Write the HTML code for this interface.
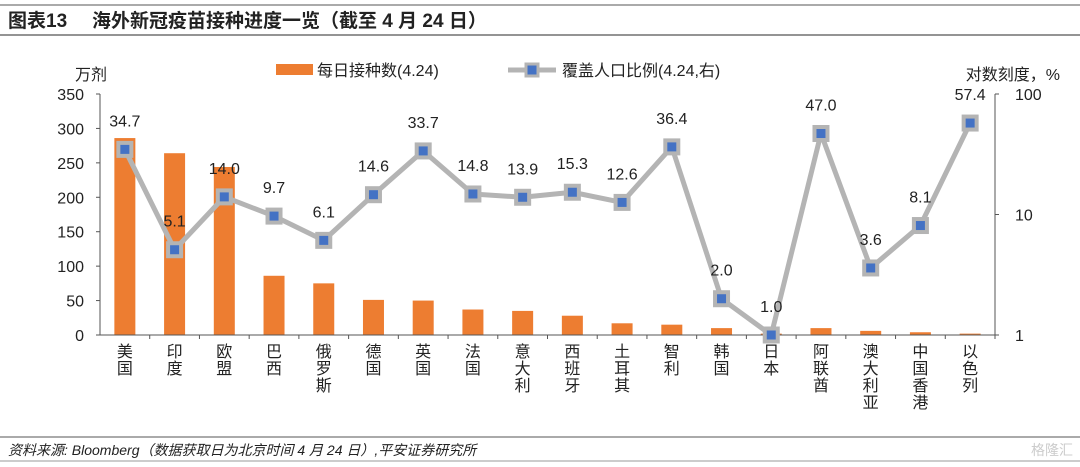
<!DOCTYPE html>
<html><head><meta charset="utf-8"><style>
html,body{margin:0;padding:0;background:#fff;width:1080px;height:467px;overflow:hidden}
svg{display:block;font-family:"Liberation Sans","Noto Sans CJK SC",sans-serif}
</style></head><body>
<svg id="c" width="1080" height="467" viewBox="0 0 1080 467">
<line x1="0" y1="5" x2="1080" y2="5" stroke="#555" stroke-width="1"/>
<text x="8" y="27" font-size="19" font-weight="bold" fill="#222">图表13<tspan x="92">海外新冠疫苗接种进度一览（截至 4 月 24 日）</tspan></text>
<line x1="0" y1="35" x2="1080" y2="35" stroke="#555" stroke-width="1.2"/>
<text x="75" y="80" font-size="16" fill="#222">万剂</text>
<text x="1060" y="80" font-size="16" fill="#222" text-anchor="end">对数刻度，%</text>
<g>
<rect x="276" y="64" width="37" height="11" fill="#ED7D31"/>
<text x="317" y="76" font-size="16" fill="#222">每日接种数(4.24)</text>
<line x1="508" y1="70" x2="556" y2="70" stroke="#B4B4B4" stroke-width="5"/>
<rect x="526" y="64" width="12" height="12" fill="#4472C4" stroke="#B4B4B4" stroke-width="3"/>
<text x="562" y="76" font-size="16" fill="#222">覆盖人口比例(4.24,右)</text>
</g>
<g id="plot"></g>
<line x1="0" y1="437" x2="1080" y2="437" stroke="#555" stroke-width="1"/>
<text x="8" y="455" font-size="14" font-style="italic" fill="#222">资料来源: Bloomberg（数据获取日为北京时间 4 月 24 日）,平安证券研究所</text>
<line x1="0" y1="461" x2="1080" y2="461" stroke="#999" stroke-width="1"/>
<text x="1073" y="455" font-size="14" fill="#ccc" text-anchor="end">格隆汇</text>
</svg>
<script>
const categories=["美国","印度","欧盟","巴西","俄罗斯","德国","英国","法国","意大利","西班牙","土耳其","智利","韩国","日本","阿联酋","澳大利亚","中国香港","以色列"];
const dailyDoses=[286,264,244,86,75,51,50,37,35,28,17,15,10,2,10,6,4,2];
const coverage=[34.7,5.1,14.0,9.7,6.1,14.6,33.7,14.8,13.9,15.3,12.6,36.4,2.0,1.0,47.0,3.6,8.1,57.4];
const leftTicks=[0,50,100,150,200,250,300,350];
const rightTicks=[1,10,100];
const NS="http://www.w3.org/2000/svg";
const g=document.getElementById('plot');
const X0=100,X1=995,Y0=335,Y1=94;
const step=(X1-X0)/categories.length;
const xc=i=>X0+step*(i+0.5);
const yL=v=>Y0-(v/350)*(Y0-Y1);
const yR=v=>Y0-(Math.log10(v)/2)*(Y0-Y1);
function mk(t,a){const e=document.createElementNS(NS,t);for(const k in a)e.setAttribute(k,a[k]);g.appendChild(e);return e;}
dailyDoses.forEach((v,i)=>{
 const r=mk('rect',{x:xc(i)-10.5,y:yL(v),width:21,height:Y0-yL(v),fill:'#ED7D31'});
 
 
});
let ax=mk('line',{x1:X0,y1:Y1,x2:X0,y2:Y0,stroke:'#555'});


ax=mk('line',{x1:X1,y1:Y1,x2:X1,y2:Y0,stroke:'#555'});


ax=mk('line',{x1:X0,y1:Y0,x2:X1,y2:Y0,stroke:'#555'});


leftTicks.forEach(v=>{
 mk('line',{x1:X0-4,y1:yL(v),x2:X0,y2:yL(v),stroke:'#555'});
 const t=mk('text',{x:X0-16,y:yL(v)+6,'font-size':16,'text-anchor':'end',fill:'#222'});t.textContent=v;
 
 
});
rightTicks.forEach(v=>{
 mk('line',{x1:X1,y1:yR(v),x2:X1+4,y2:yR(v),stroke:'#555'});
 const t=mk('text',{x:X1+20,y:yR(v)+6,'font-size':16,fill:'#222'});t.textContent=v;
 
 
});
categories.forEach((c,i)=>{
 mk('line',{x1:X0+step*(i+1),y1:Y0,x2:X0+step*(i+1),y2:Y0+4,stroke:'#555'});
 [...c].forEach((ch,j)=>{
  const t=mk('text',{x:xc(i),y:Y0+22+j*17,'font-size':16,'text-anchor':'middle',fill:'#222'});t.textContent=ch;
  
  
 });
});
const pl=mk('polyline',{points:coverage.map((v,i)=>xc(i)+','+yR(v)).join(' '),fill:'none',stroke:'#B4B4B4','stroke-width':5,'stroke-linejoin':'round'});


coverage.forEach((v,i)=>{
 const m=mk('rect',{x:xc(i)-6.5,y:yR(v)-6.5,width:13,height:13,fill:'#4472C4',stroke:'#B4B4B4','stroke-width':4});
 
 
 const t=mk('text',{x:xc(i),y:yR(v)-23,'font-size':16,'text-anchor':'middle',fill:'#222'});t.textContent=v.toFixed(1);
 
 
});
</script>
</body></html>
